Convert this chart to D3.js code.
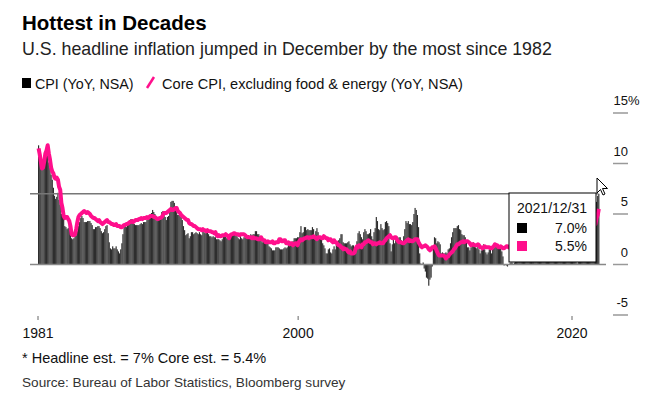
<!DOCTYPE html>
<html>
<head>
<meta charset="utf-8">
<script src="https://cdn.jsdelivr.net/npm/d3@7"></script>
<style>
  body { margin: 0; background: #fff; }
  text { font-family: "Liberation Sans", Arial, sans-serif; }
</style>
</head>
<body>
<div id="vis"></div>
<script>
// monthly YoY %, Jan 1981 .. Dec 2021
const cpi = [
  11.8, 11.4, 10.5, 10.0, 9.8, 9.6, 10.8, 10.8, 11.0, 10.1, 9.6, 8.9,
  8.4, 7.6, 6.8, 6.5, 6.7, 7.1, 6.4, 5.9, 5.0, 5.1, 4.6, 3.8,
  3.7, 3.5, 3.6, 3.9, 3.5, 2.6, 2.5, 2.6, 2.9, 2.9, 3.3, 3.8,
  4.2, 4.6, 4.8, 4.6, 4.2, 4.2, 4.2, 4.3, 4.3, 4.3, 4.1, 3.9,
  3.5, 3.5, 3.7, 3.7, 3.8, 3.8, 3.6, 3.3, 3.1, 3.2, 3.5, 3.8,
  3.9, 3.1, 2.2, 1.6, 1.5, 1.8, 1.6, 1.6, 1.8, 1.5, 1.3, 1.1,
  1.5, 2.1, 3.0, 3.8, 3.9, 3.7, 3.9, 4.3, 4.4, 4.5, 4.5, 4.4,
  4.0, 3.9, 3.9, 3.9, 3.9, 4.0, 4.1, 4.0, 4.2, 4.2, 4.2, 4.4,
  4.7, 4.8, 5.0, 5.1, 5.4, 5.2, 5.0, 4.7, 4.3, 4.5, 4.7, 4.6,
  5.2, 5.3, 5.2, 4.7, 4.4, 4.7, 4.8, 5.6, 6.2, 6.3, 6.3, 6.1,
  5.7, 5.3, 4.9, 4.9, 5.0, 4.7, 4.4, 3.8, 3.4, 2.9, 3.0, 3.1,
  2.6, 2.8, 3.2, 3.2, 3.0, 3.1, 3.2, 3.1, 3.0, 3.2, 3.0, 2.9,
  3.3, 3.2, 3.1, 3.2, 3.2, 3.0, 2.8, 2.8, 2.7, 2.8, 2.7, 2.7,
  2.5, 2.5, 2.5, 2.4, 2.3, 2.5, 2.8, 2.9, 3.0, 2.6, 2.7, 2.7,
  2.8, 2.9, 2.9, 3.1, 3.2, 3.0, 2.8, 2.6, 2.5, 2.8, 2.6, 2.5,
  2.7, 2.7, 2.8, 2.9, 2.9, 2.8, 3.0, 2.9, 3.0, 3.0, 3.3, 3.3,
  3.0, 3.0, 2.8, 2.5, 2.2, 2.3, 2.2, 2.2, 2.2, 2.1, 1.8, 1.7,
  1.6, 1.4, 1.4, 1.4, 1.7, 1.7, 1.7, 1.6, 1.5, 1.5, 1.5, 1.6,
  1.7, 1.6, 1.7, 2.3, 2.1, 2.0, 2.1, 2.3, 2.6, 2.6, 2.6, 2.7,
  2.7, 3.2, 3.8, 3.1, 3.2, 3.7, 3.7, 3.4, 3.5, 3.4, 3.4, 3.4,
  3.7, 3.5, 2.9, 3.3, 3.6, 3.2, 2.7, 2.7, 2.6, 2.1, 1.9, 1.6,
  1.1, 1.1, 1.5, 1.6, 1.2, 1.1, 1.5, 1.8, 1.5, 2.0, 2.2, 2.4,
  2.6, 3.0, 3.0, 2.2, 2.1, 2.1, 2.1, 2.2, 2.3, 2.0, 1.8, 1.9,
  1.9, 1.7, 1.7, 2.3, 3.1, 3.3, 3.0, 2.7, 2.5, 3.2, 3.5, 3.3,
  3.0, 3.0, 3.1, 3.5, 2.8, 2.5, 3.2, 3.6, 4.7, 4.3, 3.5, 3.4,
  4.0, 3.6, 3.4, 3.5, 4.2, 4.3, 4.1, 3.8, 2.1, 1.3, 2.0, 2.5,
  2.1, 2.4, 2.8, 2.6, 2.7, 2.7, 2.4, 2.0, 2.8, 3.5, 4.3, 4.1,
  4.3, 4.0, 4.0, 3.9, 4.2, 5.0, 5.6, 5.4, 4.9, 3.7, 1.1, 0.1,
  0.0, 0.2, -0.4, -0.7, -1.3, -1.4, -2.1, -1.5, -1.3, -0.2, 1.8, 2.7,
  2.6, 2.1, 2.3, 2.2, 2.0, 1.1, 1.2, 1.1, 1.1, 1.2, 1.1, 1.5,
  1.6, 2.1, 2.7, 3.2, 3.6, 3.6, 3.6, 3.8, 3.9, 3.5, 3.4, 3.0,
  2.9, 2.9, 2.7, 2.3, 1.7, 1.7, 1.4, 1.7, 2.0, 2.2, 1.8, 1.7,
  1.6, 2.0, 1.5, 1.1, 1.4, 1.8, 2.0, 1.5, 1.2, 1.0, 1.2, 1.5,
  1.6, 1.1, 1.5, 2.0, 2.1, 2.1, 2.0, 1.7, 1.7, 1.7, 1.3, 0.8,
  -0.1, 0.0, -0.1, -0.2, 0.0, 0.1, 0.2, 0.2, 0.0, 0.2, 0.5, 0.7,
  1.4, 1.0, 0.9, 1.1, 1.0, 1.0, 0.8, 1.1, 1.5, 1.6, 1.7, 2.1,
  2.5, 2.7, 2.4, 2.2, 1.9, 1.6, 1.7, 1.9, 2.2, 2.0, 2.2, 2.1,
  2.1, 2.2, 2.4, 2.5, 2.8, 2.9, 2.9, 2.7, 2.3, 2.5, 2.2, 1.9,
  1.6, 1.5, 1.9, 2.0, 1.8, 1.6, 1.8, 1.7, 1.7, 1.8, 2.1, 2.3,
  2.5, 2.3, 1.5, 0.3, 0.1, 0.6, 1.0, 1.3, 1.4, 1.2, 1.2, 1.4,
  1.4, 1.7, 2.6, 4.2, 5.0, 5.4, 5.4, 5.3, 5.4, 6.2, 6.8, 7.0
];

const core = [
  11.5, 10.9, 10.2, 9.5, 9.6, 10.2, 11.0, 11.3, 11.8, 11.0, 10.4, 9.6,
  9.2, 9.0, 8.6, 8.5, 8.6, 8.4, 7.7, 7.4, 6.1, 5.6, 4.8, 4.6,
  4.7, 4.7, 4.5, 4.3, 3.8, 3.0, 2.9, 2.9, 3.0, 3.5, 4.2, 4.7,
  4.9, 5.0, 5.1, 5.2, 5.3, 5.2, 5.1, 5.2, 5.1, 5.0, 4.8, 4.7,
  4.6, 4.6, 4.5, 4.4, 4.3, 4.4, 4.2, 4.1, 4.0, 4.1, 4.2, 4.3,
  4.4, 4.2, 4.2, 4.1, 4.0, 4.0, 3.9, 3.9, 4.0, 3.8, 3.8, 3.8,
  3.7, 3.7, 3.8, 3.9, 3.9, 4.0, 4.0, 4.1, 4.2, 4.2, 4.3, 4.2,
  4.3, 4.4, 4.4, 4.4, 4.5, 4.5, 4.6, 4.5, 4.6, 4.6, 4.6, 4.7,
  4.6, 4.7, 4.8, 4.8, 4.8, 4.7, 4.7, 4.6, 4.5, 4.5, 4.6, 4.6,
  4.7, 4.9, 5.1, 5.1, 5.1, 5.2, 5.3, 5.4, 5.5, 5.4, 5.4, 5.5,
  5.6, 5.6, 5.3, 5.2, 5.1, 4.9, 4.8, 4.7, 4.6, 4.5, 4.4, 4.4,
  4.1, 4.0, 4.0, 3.9, 3.8, 3.8, 3.7, 3.6, 3.5, 3.5, 3.5, 3.4,
  3.5, 3.4, 3.4, 3.3, 3.4, 3.3, 3.3, 3.3, 3.2, 3.2, 3.1, 3.2,
  2.9, 2.8, 2.9, 2.8, 2.8, 2.9, 2.9, 2.9, 3.0, 2.9, 2.8, 2.6,
  2.9, 3.0, 3.0, 3.1, 3.1, 3.0, 3.0, 3.0, 2.9, 3.0, 3.0, 3.0,
  3.0, 2.9, 2.8, 2.7, 2.7, 2.7, 2.7, 2.6, 2.7, 2.6, 2.6, 2.6,
  2.5, 2.5, 2.5, 2.7, 2.5, 2.4, 2.4, 2.2, 2.2, 2.3, 2.2, 2.2,
  2.2, 2.3, 2.1, 2.1, 2.2, 2.2, 2.2, 2.5, 2.5, 2.3, 2.3, 2.4,
  2.4, 2.1, 2.1, 2.2, 2.0, 2.1, 2.1, 1.9, 2.0, 2.1, 2.1, 1.9,
  2.2, 2.4, 2.5, 2.4, 2.5, 2.6, 2.6, 2.7, 2.7, 2.6, 2.7, 2.7,
  2.7, 2.8, 2.7, 2.6, 2.5, 2.7, 2.7, 2.7, 2.6, 2.6, 2.8, 2.7,
  2.6, 2.6, 2.4, 2.5, 2.5, 2.3, 2.2, 2.4, 2.2, 2.2, 2.0, 1.9,
  1.9, 1.7, 1.7, 1.5, 1.6, 1.5, 1.5, 1.3, 1.2, 1.3, 1.1, 1.1,
  1.1, 1.2, 1.6, 1.8, 1.7, 1.9, 1.8, 1.7, 2.0, 2.0, 2.2, 2.2,
  2.3, 2.4, 2.3, 2.2, 2.2, 2.0, 2.1, 2.1, 2.0, 2.1, 2.1, 2.2,
  2.1, 2.1, 2.1, 2.3, 2.4, 2.6, 2.7, 2.8, 2.9, 2.7, 2.6, 2.6,
  2.7, 2.7, 2.5, 2.3, 2.2, 2.2, 2.2, 2.1, 2.1, 2.2, 2.3, 2.4,
  2.5, 2.3, 2.4, 2.3, 2.3, 2.4, 2.5, 2.5, 2.5, 2.2, 2.0, 1.8,
  1.7, 1.8, 1.8, 1.9, 1.8, 1.7, 1.5, 1.4, 1.5, 1.7, 1.7, 1.8,
  1.6, 1.3, 1.1, 0.9, 0.9, 0.9, 0.9, 0.9, 0.8, 0.6, 0.8, 0.8,
  1.0, 1.1, 1.2, 1.3, 1.5, 1.6, 1.8, 2.0, 2.0, 2.1, 2.2, 2.2,
  2.3, 2.2, 2.3, 2.3, 2.3, 2.2, 2.1, 1.9, 2.0, 2.0, 1.9, 1.9,
  1.9, 2.0, 1.9, 1.7, 1.7, 1.6, 1.7, 1.8, 1.7, 1.7, 1.7, 1.7,
  1.6, 1.6, 1.7, 1.8, 2.0, 1.9, 1.9, 1.7, 1.7, 1.8, 1.7, 1.6,
  1.6, 1.7, 1.8, 1.8, 1.7, 1.8, 1.8, 1.8, 1.9, 1.9, 2.0, 2.1,
  2.2, 2.3, 2.2, 2.1, 2.2, 2.2, 2.2, 2.3, 2.2, 2.1, 2.1, 2.2,
  2.3, 2.2, 2.0, 1.9, 1.7, 1.7, 1.7, 1.7, 1.7, 1.8, 1.7, 1.8,
  1.8, 1.8, 2.1, 2.1, 2.2, 2.3, 2.4, 2.2, 2.2, 2.1, 2.2, 2.2,
  2.2, 2.1, 2.0, 2.1, 2.0, 2.1, 2.2, 2.4, 2.4, 2.3, 2.3, 2.3,
  2.3, 2.4, 2.1, 1.4, 1.2, 1.2, 1.6, 1.7, 1.7, 1.6, 1.6, 1.6,
  1.4, 1.3, 1.6, 3.0, 3.8, 4.5, 4.3, 4.0, 4.0, 4.6, 4.9, 5.5
];

const xTicks = [1981, 2000, 2020];
const yTicks = [-5, 0, 5, 10, 15];
const hoverLabel = "2021/12/31";

const title = "Hottest in Decades";
const subtitle = "U.S. headline inflation jumped in December by the most since 1982";
const legendCpi = "CPI (YoY, NSA)";
const legendCore = "Core CPI, excluding food & energy (YoY, NSA)";
const footnote = "* Headline est. = 7% Core est. = 5.4%";
const source = "Source: Bureau of Labor Statistics, Bloomberg survey";

const pink = "#ff0f8c";
const width = 662, height = 417;

const svg = d3.select("#vis").append("svg")
  .attr("width", width)
  .attr("height", height);

// monthly dates
const months = cpi.map((v, i) => new Date(1981, i, 1));
const series = months.map((d, i) => ({ date: d, cpi: cpi[i], core: core[i] }));

const x = d3.scaleTime()
  .domain([new Date(1981, 0, 1), new Date(2020, 0, 1)])
  .range([38, 572]);

const y = d3.scaleLinear()
  .domain([-5, 15])
  .range([315, 113]);

const step = x(new Date(1981, 1, 1)) - x(new Date(1981, 0, 1));

// headings
svg.append("text")
  .attr("x", 22).attr("y", 30)
  .style("font-size", "20.5px").style("font-weight", "bold")
  .attr("fill", "#000")
  .text(title);

svg.append("text")
  .attr("x", 22).attr("y", 55)
  .style("font-size", "17.8px")
  .attr("fill", "#222")
  .text(subtitle);

// legend
svg.append("rect")
  .attr("x", 22).attr("y", 78)
  .attr("width", 9).attr("height", 10)
  .attr("fill", "#000");
svg.append("text")
  .attr("x", 35).attr("y", 88.5)
  .style("font-size", "14.3px")
  .attr("fill", "#111")
  .text(legendCpi);
svg.append("line")
  .attr("x1", 147).attr("y1", 88)
  .attr("x2", 154).attr("y2", 77)
  .attr("stroke", pink).attr("stroke-width", 2.5);
svg.append("text")
  .attr("x", 162).attr("y", 88.5)
  .style("font-size", "14.6px")
  .attr("fill", "#111")
  .text(legendCore);

// CPI bars
svg.append("g")
  .selectAll("rect")
  .data(series)
  .enter()
  .append("rect")
  .attr("x", d => x(d.date))
  .attr("y", d => y(Math.max(0, d.cpi)))
  .attr("width", step)
  .attr("height", d => Math.abs(y(d.cpi) - y(0)))
  .attr("fill", "#2e2e2e");

// zero line
svg.append("line")
  .attr("x1", 30).attr("x2", 606)
  .attr("y1", y(0)).attr("y2", y(0))
  .attr("stroke", "#888").attr("stroke-width", 1.5);

// hover crosshair at last CPI value
const last = series[series.length - 1];
svg.append("line")
  .attr("x1", 30).attr("x2", x(last.date))
  .attr("y1", y(last.cpi)).attr("y2", y(last.cpi))
  .attr("stroke", "#777").attr("stroke-width", 1.5);

// core line
const line = d3.line()
  .x(d => x(d.date) + step / 2)
  .y(d => y(d.core));

svg.append("path")
  .datum(series)
  .attr("fill", "none")
  .attr("stroke", pink)
  .attr("stroke-width", 4)
  .attr("stroke-linejoin", "round")
  .attr("d", line);

// right axis
const yAxis = svg.append("g");
yTicks.forEach(t => {
  yAxis.append("line")
    .attr("x1", 613).attr("x2", 628)
    .attr("y1", y(t)).attr("y2", y(t))
    .attr("stroke", "#999").attr("stroke-width", 1.5);
  yAxis.append("text")
    .attr("x", 628).attr("y", y(t) - 8)
    .attr("text-anchor", "end")
    .style("font-size", "13px")
    .attr("fill", "#111")
    .text(t);
  if (t === 15) {
    yAxis.append("text")
      .attr("x", 628).attr("y", y(t) - 8)
      .style("font-size", "13px")
      .attr("fill", "#111")
      .text("%");
  }
});

// bottom axis
const xAxis = svg.append("g");
xTicks.forEach(t => {
  const xp = x(new Date(t, 0, 1));
  xAxis.append("line")
    .attr("x1", xp).attr("x2", xp)
    .attr("y1", 316).attr("y2", 320)
    .attr("stroke", "#666").attr("stroke-width", 1);
  xAxis.append("text")
    .attr("x", xp).attr("y", 338)
    .attr("text-anchor", "middle")
    .style("font-size", "14px")
    .attr("fill", "#111")
    .text(t);
});

// tooltip
const tip = svg.append("g").attr("transform", "translate(509,193)");
tip.append("rect")
  .attr("x", 0).attr("y", 0)
  .attr("width", 87).attr("height", 69)
  .attr("fill", "#fff")
  .attr("stroke", "#000").attr("stroke-width", 1);
tip.append("text")
  .attr("x", 8).attr("y", 20)
  .style("font-size", "14px")
  .attr("fill", "#111")
  .text(hoverLabel);
tip.append("rect")
  .attr("x", 8).attr("y", 30).attr("width", 10).attr("height", 10)
  .attr("fill", "#000");
tip.append("text")
  .attr("x", 78).attr("y", 39.5)
  .attr("text-anchor", "end")
  .style("font-size", "14px")
  .attr("fill", "#111")
  .text(last.cpi.toFixed(1) + "%");
tip.append("rect")
  .attr("x", 8).attr("y", 48).attr("width", 10).attr("height", 10)
  .attr("fill", pink);
tip.append("text")
  .attr("x", 78).attr("y", 57.5)
  .attr("text-anchor", "end")
  .style("font-size", "14px")
  .attr("fill", "#111")
  .text(last.core.toFixed(1) + "%");

// mouse pointer
svg.append("path")
  .attr("transform", "translate(597,178)")
  .attr("d", "M0,0 L0,15 L3.5,11.5 L6,17 L8,16 L5.5,10.5 L10.5,10.5 Z")
  .attr("fill", "#fff")
  .attr("stroke", "#000")
  .attr("stroke-width", 1);

// notes
svg.append("text")
  .attr("x", 22).attr("y", 363)
  .style("font-size", "14.5px")
  .attr("fill", "#111")
  .text(footnote);

svg.append("text")
  .attr("x", 22).attr("y", 387)
  .style("font-size", "13.6px")
  .attr("fill", "#333")
  .text(source);
</script>
</body>
</html>
